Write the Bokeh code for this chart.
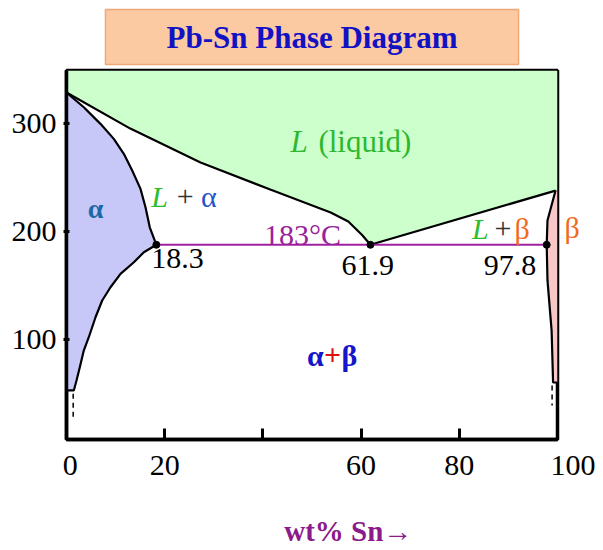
from bokeh.plotting import figure
from bokeh.models import Label, FixedTicker, Range1d, LinearAxis
from bokeh.embed import file_html
from bokeh.resources import INLINE

# ---- phase boundaries (wt% Sn, temperature as drawn) ----
liq_a_x = [0, 13.0, 27.3, 41.5, 53.8, 57.4, 60.2, 61.9]
liq_a_y = [329, 295.6, 264.2, 239.2, 217.9, 209.5, 197.0, 188]
liq_b_x = [61.9, 99.6]
liq_b_y = [188, 238.2]
sol_a_x = [0, 3.52, 6.92, 9.63, 11.67, 13.38, 15.07, 16.09, 16.96, 18.3]
sol_a_y = [329, 315.4, 300, 286.1, 272.2, 256.8, 239.8, 222.8, 204.2, 188]
solv_a_x = [18.3, 15.75, 13.72, 11.0, 8.96, 7.27, 5.91, 4.54, 3.52, 2.71, 2.04, 1.49, 0]
solv_a_y = [188, 181.1, 171.8, 161.0, 148.7, 136.4, 120.9, 102.4, 90.1, 74.7, 62.3, 53.1, 53.1]
sol_b_x = [99.6, 97.96, 97.8]
sol_b_y = [238.2, 210.5, 188]
solv_b_x = [97.8, 97.96, 98.8, 99.1, 100]
solv_b_y = [188, 155, 108.6, 60.5, 60.5]
dash_a_x = [1.36, 1.36]
dash_a_y = [50, 25.3]
dash_b_x = [98.9, 98.9]
dash_b_y = [57.7, 39.2]
eut_x = [18.3, 61.9, 97.8]
eut_labels = ["18.3", "61.9", "97.8"]
eut_T = 188

x_ticks = [0, 20, 40, 60, 80, 100]
x_tick_labels = ["\u00a00", "20", "", "60", "80", "\u00a0" * 5 + "100"]
y_ticks = [100, 200, 300]
beta_label_T = 204

X0, X1 = 0, 100
Y0, Y1 = 7.7, 349.4

SERIF = "Liberation Serif"

p = figure(frame_width=491, frame_height=369, x_range=Range1d(X0, X1), y_range=Range1d(Y0, Y1),
           output_backend="svg", toolbar_location=None,
           min_border_left=66, min_border_top=70, min_border_right=38, min_border_bottom=100,
           title="Pb-Sn Phase Diagram")
p.xgrid.visible = False
p.ygrid.visible = False
p.outline_line_color = "black"
p.outline_line_width = 3.5
p.background_fill_color = "white"
p.border_fill_color = "white"

# title box
t = p.title
t.align = "center"
t.text_font = SERIF
t.text_font_size = "31px"
t.text_font_style = "bold"
t.text_color = "#1212c4"
t.background_fill_color = "#fbcaa2"
t.border_line_color = "#f0a878"
t.border_line_width = 1.5
t.padding = (61, 10)
t.standoff = 12
t.offset = -3

# regions
green_x = liq_a_x + liq_b_x[1:] + [X1, X1, X0]
green_y = liq_a_y + liq_b_y[1:] + [liq_b_y[-1], Y1, Y1]
p.patch(green_x, green_y, fill_color="#ccffcc", line_color=None)
alpha_x = sol_a_x + solv_a_x[1:]
alpha_y = sol_a_y + solv_a_y[1:]
p.patch(alpha_x, alpha_y, fill_color="#c8c8f8", line_color=None)
beta_x = sol_b_x + solv_b_x[1:] + [X1]
beta_y = sol_b_y + solv_b_y[1:] + [sol_b_y[0]]
p.patch(beta_x, beta_y, fill_color="#f8c8c8", line_color=None)

# boundary lines
for xs, ys in [(liq_a_x, liq_a_y), (liq_b_x, liq_b_y), (sol_a_x, sol_a_y),
               (solv_a_x, solv_a_y), (sol_b_x, sol_b_y), (solv_b_x, solv_b_y)]:
    p.line(xs, ys, line_color="black", line_width=2.2)
p.line(dash_a_x, dash_a_y, line_color="black", line_width=1.5, line_dash="5 4")
p.line(dash_b_x, dash_b_y, line_color="black", line_width=1.5, line_dash="5 4")

# eutectic isotherm
p.line([eut_x[0], eut_x[-1]], [eut_T, eut_T], line_color="#a020a0", line_width=2)
p.scatter(eut_x, [eut_T] * 3, size=7, fill_color="black", line_color="black")

# axes
p.xaxis.ticker = FixedTicker(ticks=x_ticks)
p.xaxis.major_label_overrides = {tk: lb for tk, lb in zip(x_ticks, x_tick_labels)}
p.xaxis.minor_tick_line_color = None
p.xaxis.major_tick_in = 11
p.xaxis.major_tick_out = 0
p.xaxis.major_tick_line_width = 3
p.xaxis.axis_line_width = 3.5
p.xaxis.major_label_text_font = SERIF
p.xaxis.major_label_text_font_size = "30px"
p.xaxis.major_label_text_color = "black"
p.xaxis.major_label_standoff = 8
p.xaxis.axis_label = "\u00a0" * 10 + "wt% Sn→"
p.xaxis.axis_label_text_font = SERIF
p.xaxis.axis_label_text_font_size = "29px"
p.xaxis.axis_label_text_font_style = "bold"
p.xaxis.axis_label_text_color = "#8b1a8b"
p.xaxis.axis_label_standoff = 31

p.yaxis.ticker = FixedTicker(ticks=y_ticks)
p.yaxis.minor_tick_line_color = None
p.yaxis.major_tick_in = 3
p.yaxis.major_tick_out = 3
p.yaxis.major_tick_line_width = 3
p.yaxis.axis_line_width = 3.5
p.yaxis.major_label_text_font = SERIF
p.yaxis.major_label_text_font_size = "30px"
p.yaxis.major_label_text_color = "black"
p.yaxis.major_label_standoff = 7

# right-hand "β" label beside the frame
ra = LinearAxis(ticker=FixedTicker(ticks=[beta_label_T]),
                major_label_overrides={beta_label_T: "β"})
ra.axis_line_color = None
ra.major_tick_line_color = None
ra.minor_tick_line_color = None
ra.major_label_text_font = SERIF
ra.major_label_text_font_size = "30px"
ra.major_label_text_color = "#f06a1e"
ra.major_label_standoff = 1
p.add_layout(ra, "right")


def lab(x, y, text, color, size="30px", style="normal", align="left"):
    p.add_layout(Label(x=x, y=y, text=text, text_color=color, text_font=SERIF,
                       text_font_size=size, text_font_style=style,
                       text_align=align, text_baseline="middle"))


# region labels
lab(45.6, 284.1, "L", "#2eb82e", size="31px", style="italic")
lab(51.3, 284.1, "(liquid)", "#2eb82e", size="31px")
lab(5.9, 221.6, "α", "#1a6aa8", size="28px", style="bold", align="center")
lab(17.25, 233.0, "L", "#2ebd2e", style="italic")
lab(24.2, 233.0, "+", "#333333", align="center")
lab(29.0, 233.0, "α", "#2255cc", align="center")
lab(40.2, 197.8, "183°C", "#99229a")
lab(82.6, 203.5, "L", "#2ebd2e", style="italic")
lab(88.9, 203.5, "+", "#333333", align="center")
lab(92.8, 203.5, "β", "#f06a1e", align="center")
for xv, tx, yv in zip([17.25, 56.0, 85.0], eut_labels, [175.7, 168.5, 168.5]):
    lab(xv, yv, tx, "black")
lab(50.7, 85.5, "α", "#1515cc", style="bold", align="center")
lab(54.2, 85.5, "+", "#dd1111", style="bold", align="center")
lab(57.6, 85.5, "β", "#1515cc", style="bold", align="center")

open("out.html", "w").write(file_html(p, INLINE))
